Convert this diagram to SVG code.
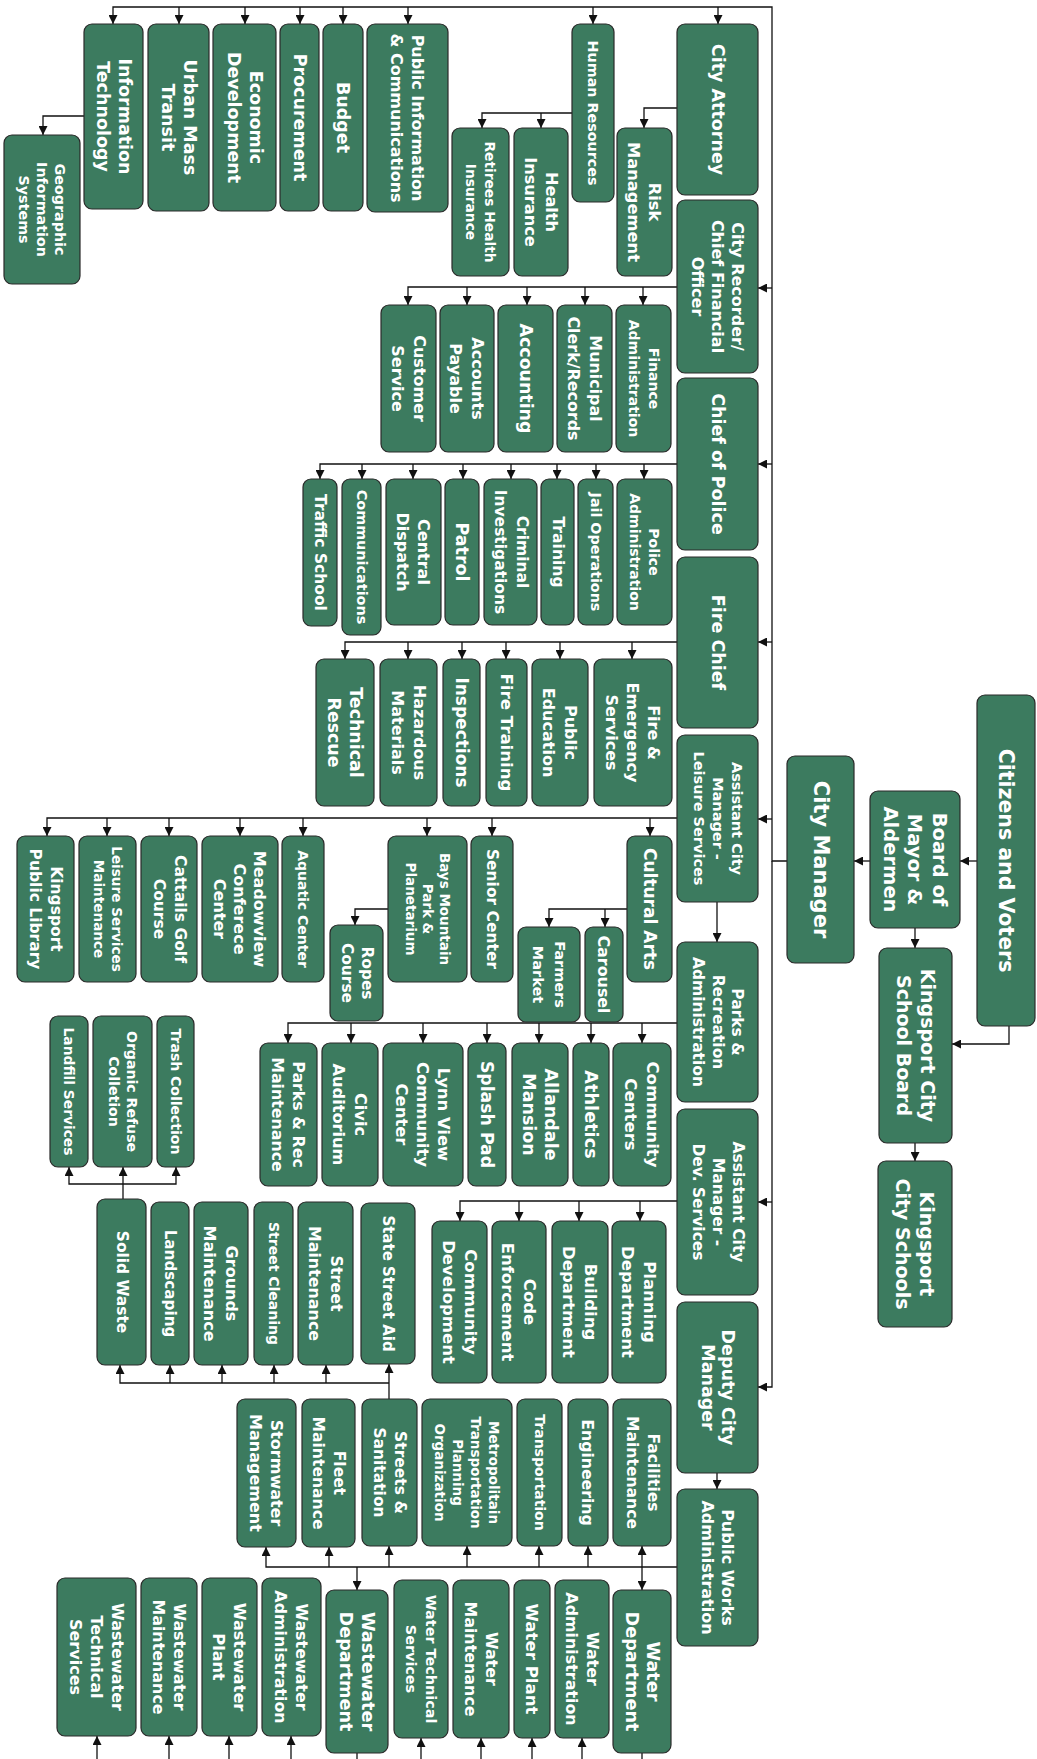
<svg xmlns="http://www.w3.org/2000/svg" width="1037" height="1759" viewBox="0 0 1037 1759">
<style>
.n rect{fill:#3c7b5f;stroke:#2a2a2a;stroke-width:1.2}
.n text{fill:#ffffff;font-family:"DejaVu Sans","Liberation Sans",sans-serif;font-weight:700;text-anchor:middle;dominant-baseline:central}
#connectors path{fill:none;stroke:#111;stroke-width:1.3}
</style>
<defs>
<marker id="ah" viewBox="0 0 10 10" refX="10" refY="5" markerWidth="9" markerHeight="9" markerUnits="userSpaceOnUse" orient="auto"><path d="M0,0 L10,5 L0,10 z" fill="#111"/></marker>
</defs>
<rect width="1037" height="1759" fill="#ffffff"/>
<g id="connectors">
<path d="M787,861 H772 V7 H113 V24" marker-end="url(#ah)"/>
<path d="M179,7 V24" marker-end="url(#ah)"/>
<path d="M245,7 V24" marker-end="url(#ah)"/>
<path d="M300,7 V24" marker-end="url(#ah)"/>
<path d="M343,7 V24" marker-end="url(#ah)"/>
<path d="M408,7 V24" marker-end="url(#ah)"/>
<path d="M593,7 V24" marker-end="url(#ah)"/>
<path d="M718,7 V24" marker-end="url(#ah)"/>
<path d="M772,288 H758" marker-end="url(#ah)"/>
<path d="M772,464 H758" marker-end="url(#ah)"/>
<path d="M772,642 H758" marker-end="url(#ah)"/>
<path d="M772,819 H758" marker-end="url(#ah)"/>
<path d="M772,1202 H758" marker-end="url(#ah)"/>
<path d="M772,861 V1387 H758" marker-end="url(#ah)"/>
<path d="M977,861 H960" marker-end="url(#ah)"/>
<path d="M870,861 H854" marker-end="url(#ah)"/>
<path d="M915,928 V948" marker-end="url(#ah)"/>
<path d="M1009,1026 V1044 H952" marker-end="url(#ah)"/>
<path d="M915,1143 V1161" marker-end="url(#ah)"/>
<path d="M84,116 H43 V135" marker-end="url(#ah)"/>
<path d="M677,108 H644 V128" marker-end="url(#ah)"/>
<path d="M572,113 H482 V128" marker-end="url(#ah)"/>
<path d="M541,113 V128" marker-end="url(#ah)"/>
<path d="M677,287 H408 V305" marker-end="url(#ah)"/>
<path d="M467,287 V305" marker-end="url(#ah)"/>
<path d="M527,287 V305" marker-end="url(#ah)"/>
<path d="M585,287 V305" marker-end="url(#ah)"/>
<path d="M643,287 V305" marker-end="url(#ah)"/>
<path d="M677,464 H320 V479" marker-end="url(#ah)"/>
<path d="M362,464 V479" marker-end="url(#ah)"/>
<path d="M413,464 V479" marker-end="url(#ah)"/>
<path d="M463,464 V479" marker-end="url(#ah)"/>
<path d="M511,464 V479" marker-end="url(#ah)"/>
<path d="M557,464 V479" marker-end="url(#ah)"/>
<path d="M596,464 V479" marker-end="url(#ah)"/>
<path d="M644,464 V479" marker-end="url(#ah)"/>
<path d="M677,642 H345 V659" marker-end="url(#ah)"/>
<path d="M408,642 V659" marker-end="url(#ah)"/>
<path d="M462,642 V659" marker-end="url(#ah)"/>
<path d="M506,642 V659" marker-end="url(#ah)"/>
<path d="M560,642 V659" marker-end="url(#ah)"/>
<path d="M632,642 V659" marker-end="url(#ah)"/>
<path d="M677,818 H47 V836" marker-end="url(#ah)"/>
<path d="M107,818 V836" marker-end="url(#ah)"/>
<path d="M169,818 V836" marker-end="url(#ah)"/>
<path d="M240,818 V836" marker-end="url(#ah)"/>
<path d="M303,818 V836" marker-end="url(#ah)"/>
<path d="M427,818 V836" marker-end="url(#ah)"/>
<path d="M492,818 V836" marker-end="url(#ah)"/>
<path d="M650,818 V836" marker-end="url(#ah)"/>
<path d="M717,902 V942" marker-end="url(#ah)"/>
<path d="M627,909 H549 V927" marker-end="url(#ah)"/>
<path d="M605,909 V927" marker-end="url(#ah)"/>
<path d="M388,909 H355 V925" marker-end="url(#ah)"/>
<path d="M677,1023 H288 V1043" marker-end="url(#ah)"/>
<path d="M351,1023 V1043" marker-end="url(#ah)"/>
<path d="M423,1023 V1043" marker-end="url(#ah)"/>
<path d="M487,1023 V1043" marker-end="url(#ah)"/>
<path d="M539,1023 V1043" marker-end="url(#ah)"/>
<path d="M591,1023 V1043" marker-end="url(#ah)"/>
<path d="M642,1023 V1043" marker-end="url(#ah)"/>
<path d="M677,1201 H460 V1221" marker-end="url(#ah)"/>
<path d="M519,1201 V1221" marker-end="url(#ah)"/>
<path d="M579,1201 V1221" marker-end="url(#ah)"/>
<path d="M640,1201 V1221" marker-end="url(#ah)"/>
<path d="M717,1473 V1489" marker-end="url(#ah)"/>
<path d="M677,1567 H266 V1547" marker-end="url(#ah)"/>
<path d="M329,1567 V1547" marker-end="url(#ah)"/>
<path d="M389,1567 V1546" marker-end="url(#ah)"/>
<path d="M467,1567 V1546" marker-end="url(#ah)"/>
<path d="M539,1567 V1546" marker-end="url(#ah)"/>
<path d="M588,1567 V1546" marker-end="url(#ah)"/>
<path d="M642,1567 V1546" marker-end="url(#ah)"/>
<path d="M642,1567 V1590" marker-end="url(#ah)"/>
<path d="M357,1567 V1590" marker-end="url(#ah)"/>
<path d="M389,1399 V1364" marker-end="url(#ah)"/>
<path d="M389,1383 H120 V1365" marker-end="url(#ah)"/>
<path d="M170,1383 V1365" marker-end="url(#ah)"/>
<path d="M222,1383 V1365" marker-end="url(#ah)"/>
<path d="M274,1383 V1365" marker-end="url(#ah)"/>
<path d="M326,1383 V1365" marker-end="url(#ah)"/>
<path d="M123,1199 V1167" marker-end="url(#ah)"/>
<path d="M123,1184 H69 V1167" marker-end="url(#ah)"/>
<path d="M123,1184 H176 V1167" marker-end="url(#ah)"/>
<path d="M642,1753 V1759"/>
<path d="M357,1753 V1759"/>
<path d="M582,1759 V1738" marker-end="url(#ah)"/>
<path d="M532,1759 V1738" marker-end="url(#ah)"/>
<path d="M481,1759 V1738" marker-end="url(#ah)"/>
<path d="M421,1759 V1738" marker-end="url(#ah)"/>
<path d="M97,1759 V1736" marker-end="url(#ah)"/>
<path d="M169,1759 V1736" marker-end="url(#ah)"/>
<path d="M229,1759 V1736" marker-end="url(#ah)"/>
<path d="M291,1759 V1736" marker-end="url(#ah)"/>
</g>

<g id="citizens" class="n"><rect x="977" y="695" width="58" height="331" rx="8"/><text transform="translate(1006,860.5) rotate(90)" font-size="20.5"><tspan x="0" y="0">Citizens and Voters</tspan></text></g>
<g id="board" class="n"><rect x="870" y="791" width="90" height="137" rx="8"/><text transform="translate(915,859.5) rotate(90)" font-size="19.5"><tspan x="0" y="-24.5">Board of</tspan><tspan x="0" y="0">Mayor &amp;</tspan><tspan x="0" y="24.5">Aldermen</tspan></text></g>
<g id="city-manager" class="n"><rect x="787" y="756" width="67" height="207" rx="8"/><text transform="translate(820.5,859.5) rotate(90)" font-size="21"><tspan x="0" y="0">City Manager</tspan></text></g>
<g id="school-board" class="n"><rect x="879" y="948" width="73" height="195" rx="8"/><text transform="translate(915.5,1045.5) rotate(90)" font-size="19"><tspan x="0" y="-12">Kingsport City</tspan><tspan x="0" y="12">School Board</tspan></text></g>
<g id="city-schools" class="n"><rect x="878" y="1161" width="74" height="166" rx="8"/><text transform="translate(915,1244) rotate(90)" font-size="19"><tspan x="0" y="-12">Kingsport</tspan><tspan x="0" y="12">City Schools</tspan></text></g>

<g id="city-attorney" class="n"><rect x="677" y="24" width="81" height="171" rx="8"/><text transform="translate(717.5,109.5) rotate(90)" font-size="17.5"><tspan x="0" y="0">City Attorney</tspan></text></g>
<g id="city-recorder" class="n"><rect x="677" y="200" width="81" height="173" rx="8"/><text transform="translate(717.5,286.5) rotate(90)" font-size="16"><tspan x="0" y="-20">City Recorder/</tspan><tspan x="0" y="0">Chief Financial</tspan><tspan x="0" y="20">Officer</tspan></text></g>
<g id="chief-police" class="n"><rect x="677" y="378" width="81" height="172" rx="8"/><text transform="translate(717.5,464) rotate(90)" font-size="17.5"><tspan x="0" y="0">Chief of Police</tspan></text></g>
<g id="fire-chief" class="n"><rect x="677" y="557" width="81" height="171" rx="8"/><text transform="translate(717.5,642.5) rotate(90)" font-size="17.5"><tspan x="0" y="0">Fire Chief</tspan></text></g>
<g id="acm-leisure" class="n"><rect x="677" y="735" width="81" height="167" rx="8"/><text transform="translate(717.5,818.5) rotate(90)" font-size="14.5"><tspan x="0" y="-19">Assistant City</tspan><tspan x="0" y="0">Manager -</tspan><tspan x="0" y="19">Leisure Services</tspan></text></g>
<g id="parks-rec-admin" class="n"><rect x="677" y="942" width="81" height="160" rx="8"/><text transform="translate(717.5,1022) rotate(90)" font-size="15.5"><tspan x="0" y="-19.5">Parks &amp;</tspan><tspan x="0" y="0">Recreation</tspan><tspan x="0" y="19.5">Administration</tspan></text></g>
<g id="acm-dev" class="n"><rect x="677" y="1109" width="81" height="186" rx="8"/><text transform="translate(717.5,1202) rotate(90)" font-size="15.5"><tspan x="0" y="-20">Assistant City</tspan><tspan x="0" y="0">Manager -</tspan><tspan x="0" y="20">Dev. Services</tspan></text></g>
<g id="deputy-cm" class="n"><rect x="677" y="1302" width="81" height="171" rx="8"/><text transform="translate(717.5,1387.5) rotate(90)" font-size="17.5"><tspan x="0" y="-10">Deputy City</tspan><tspan x="0" y="10">Manager</tspan></text></g>
<g id="public-works-admin" class="n"><rect x="677" y="1489" width="81" height="157" rx="8"/><text transform="translate(717.5,1567.5) rotate(90)" font-size="16"><tspan x="0" y="-10">Public Works</tspan><tspan x="0" y="10">Administration</tspan></text></g>

<g id="it" class="n"><rect x="84" y="24" width="59" height="185" rx="8"/><text transform="translate(113.5,116.5) rotate(90)" font-size="17.5"><tspan x="0" y="-11">Information</tspan><tspan x="0" y="11">Technology</tspan></text></g>
<g id="urban-transit" class="n"><rect x="148" y="24" width="61" height="187" rx="8"/><text transform="translate(178.5,117.5) rotate(90)" font-size="17.5"><tspan x="0" y="-11">Urban Mass</tspan><tspan x="0" y="11">Transit</tspan></text></g>
<g id="economic-dev" class="n"><rect x="213" y="24" width="63" height="187" rx="8"/><text transform="translate(244.5,117.5) rotate(90)" font-size="17.5"><tspan x="0" y="-11">Economic</tspan><tspan x="0" y="11">Development</tspan></text></g>
<g id="procurement" class="n"><rect x="280" y="24" width="39" height="187" rx="8"/><text transform="translate(299.5,117.5) rotate(90)" font-size="17.5"><tspan x="0" y="0">Procurement</tspan></text></g>
<g id="budget" class="n"><rect x="323" y="24" width="40" height="187" rx="8"/><text transform="translate(343,117.5) rotate(90)" font-size="17.5"><tspan x="0" y="0">Budget</tspan></text></g>
<g id="public-info" class="n"><rect x="367" y="24" width="81" height="188" rx="8"/><text transform="translate(407.5,118) rotate(90)" font-size="16"><tspan x="0" y="-10.75">Public Information</tspan><tspan x="0" y="10.75">&amp; Communications</tspan></text></g>
<g id="human-resources" class="n"><rect x="572" y="24" width="42" height="178" rx="8"/><text transform="translate(593,113) rotate(90)" font-size="14.3"><tspan x="0" y="0">Human Resources</tspan></text></g>
<g id="gis" class="n"><rect x="4" y="135" width="76" height="149" rx="8"/><text transform="translate(42,209.5) rotate(90)" font-size="14.3"><tspan x="0" y="-18">Geographic</tspan><tspan x="0" y="0">Information</tspan><tspan x="0" y="18">Systems</tspan></text></g>
<g id="retirees-insurance" class="n"><rect x="452" y="128" width="57" height="148" rx="8"/><text transform="translate(480.5,202) rotate(90)" font-size="13.8"><tspan x="0" y="-9.5">Retirees Health</tspan><tspan x="0" y="9.5">Insurance</tspan></text></g>
<g id="health-insurance" class="n"><rect x="514" y="128" width="54" height="148" rx="8"/><text transform="translate(541,202) rotate(90)" font-size="16.2"><tspan x="0" y="-10.5">Health</tspan><tspan x="0" y="10.5">Insurance</tspan></text></g>
<g id="risk-management" class="n"><rect x="617" y="128" width="55" height="148" rx="8"/><text transform="translate(644.5,202) rotate(90)" font-size="16.3"><tspan x="0" y="-10.5">Risk</tspan><tspan x="0" y="10.5">Management</tspan></text></g>

<g id="customer-service" class="n"><rect x="381" y="305" width="55" height="147" rx="8"/><text transform="translate(408.5,378.5) rotate(90)" font-size="16"><tspan x="0" y="-11">Customer</tspan><tspan x="0" y="11">Service</tspan></text></g>
<g id="accounts-payable" class="n"><rect x="440" y="305" width="54" height="147" rx="8"/><text transform="translate(467,378.5) rotate(90)" font-size="16"><tspan x="0" y="-11">Accounts</tspan><tspan x="0" y="11">Payable</tspan></text></g>
<g id="accounting" class="n"><rect x="498" y="305" width="55" height="147" rx="8"/><text transform="translate(525.5,378.5) rotate(90)" font-size="17.4"><tspan x="0" y="0">Accounting</tspan></text></g>
<g id="municipal-clerk" class="n"><rect x="557" y="305" width="55" height="147" rx="8"/><text transform="translate(584.5,378.5) rotate(90)" font-size="15.9"><tspan x="0" y="-11">Municipal</tspan><tspan x="0" y="11">Clerk/Records</tspan></text></g>
<g id="finance-admin" class="n"><rect x="616" y="305" width="55" height="147" rx="8"/><text transform="translate(643.5,378.5) rotate(90)" font-size="14"><tspan x="0" y="-10">Finance</tspan><tspan x="0" y="10">Administration</tspan></text></g>

<g id="traffic-school" class="n"><rect x="303" y="479" width="34" height="147" rx="8"/><text transform="translate(320,552.5) rotate(90)" font-size="15.5"><tspan x="0" y="0">Traffic School</tspan></text></g>
<g id="communications" class="n"><rect x="342" y="479" width="39" height="156" rx="8"/><text transform="translate(361.5,557) rotate(90)" font-size="14.4"><tspan x="0" y="0">Communications</tspan></text></g>
<g id="central-dispatch" class="n"><rect x="386" y="479" width="55" height="146" rx="8"/><text transform="translate(413.5,552) rotate(90)" font-size="16"><tspan x="0" y="-10.5">Central</tspan><tspan x="0" y="10.5">Dispatch</tspan></text></g>
<g id="patrol" class="n"><rect x="445" y="479" width="34" height="146" rx="8"/><text transform="translate(462,552) rotate(90)" font-size="17.5"><tspan x="0" y="0">Patrol</tspan></text></g>
<g id="criminal-investigations" class="n"><rect x="484" y="479" width="53" height="146" rx="8"/><text transform="translate(510.5,552) rotate(90)" font-size="15.5"><tspan x="0" y="-11">Criminal</tspan><tspan x="0" y="11">Investigations</tspan></text></g>
<g id="training" class="n"><rect x="541" y="479" width="33" height="146" rx="8"/><text transform="translate(557.5,552) rotate(90)" font-size="15.6"><tspan x="0" y="0">Training</tspan></text></g>
<g id="jail-operations" class="n"><rect x="578" y="479" width="35" height="146" rx="8"/><text transform="translate(595.5,552) rotate(90)" font-size="14.3"><tspan x="0" y="0">Jail Operations</tspan></text></g>
<g id="police-admin" class="n"><rect x="617" y="479" width="55" height="146" rx="8"/><text transform="translate(644.5,552) rotate(90)" font-size="14"><tspan x="0" y="-9.5">Police</tspan><tspan x="0" y="9.5">Administration</tspan></text></g>

<g id="technical-rescue" class="n"><rect x="316" y="659" width="58" height="147" rx="8"/><text transform="translate(345,732.5) rotate(90)" font-size="17.4"><tspan x="0" y="-11">Technical</tspan><tspan x="0" y="11">Rescue</tspan></text></g>
<g id="hazardous-materials" class="n"><rect x="380" y="659" width="57" height="147" rx="8"/><text transform="translate(408.5,732.5) rotate(90)" font-size="16"><tspan x="0" y="-11">Hazardous</tspan><tspan x="0" y="11">Materials</tspan></text></g>
<g id="inspections" class="n"><rect x="443" y="659" width="37" height="147" rx="8"/><text transform="translate(461.5,732.5) rotate(90)" font-size="17"><tspan x="0" y="0">Inspections</tspan></text></g>
<g id="fire-training" class="n"><rect x="486" y="659" width="41" height="147" rx="8"/><text transform="translate(506.5,732.5) rotate(90)" font-size="16.6"><tspan x="0" y="0">Fire Training</tspan></text></g>
<g id="public-education" class="n"><rect x="532" y="659" width="56" height="147" rx="8"/><text transform="translate(560,732.5) rotate(90)" font-size="16"><tspan x="0" y="-11">Public</tspan><tspan x="0" y="11">Education</tspan></text></g>
<g id="fire-ems" class="n"><rect x="594" y="659" width="78" height="147" rx="8"/><text transform="translate(633,732.5) rotate(90)" font-size="16"><tspan x="0" y="-21">Fire &amp;</tspan><tspan x="0" y="0">Emergency</tspan><tspan x="0" y="21">Services</tspan></text></g>

<g id="public-library" class="n"><rect x="17" y="836" width="57" height="146" rx="8"/><text transform="translate(45.5,909) rotate(90)" font-size="15.5"><tspan x="0" y="-10.5">Kingsport</tspan><tspan x="0" y="10.5">Public Library</tspan></text></g>
<g id="leisure-maintenance" class="n"><rect x="79" y="836" width="57" height="146" rx="8"/><text transform="translate(107.5,909) rotate(90)" font-size="13.6"><tspan x="0" y="-9">Leisure Services</tspan><tspan x="0" y="9">Maintenance</tspan></text></g>
<g id="cattails-golf" class="n"><rect x="141" y="836" width="56" height="146" rx="8"/><text transform="translate(169,909) rotate(90)" font-size="15.5"><tspan x="0" y="-10.5">Cattails Golf</tspan><tspan x="0" y="10.5">Course</tspan></text></g>
<g id="meadowview" class="n"><rect x="202" y="836" width="76" height="146" rx="8"/><text transform="translate(240,909) rotate(90)" font-size="16"><tspan x="0" y="-20">Meadowview</tspan><tspan x="0" y="0">Conferece</tspan><tspan x="0" y="20">Center</tspan></text></g>
<g id="aquatic-center" class="n"><rect x="282" y="836" width="42" height="146" rx="8"/><text transform="translate(303,909) rotate(90)" font-size="14"><tspan x="0" y="0">Aquatic Center</tspan></text></g>
<g id="bays-mountain" class="n"><rect x="388" y="836" width="79" height="146" rx="8"/><text transform="translate(427.5,909) rotate(90)" font-size="13.5"><tspan x="0" y="-17">Bays Mountain</tspan><tspan x="0" y="0">Park &amp;</tspan><tspan x="0" y="17">Planetarium</tspan></text></g>
<g id="senior-center" class="n"><rect x="471" y="836" width="42" height="146" rx="8"/><text transform="translate(492,909) rotate(90)" font-size="15.5"><tspan x="0" y="0">Senior Center</tspan></text></g>
<g id="cultural-arts" class="n"><rect x="627" y="836" width="45" height="146" rx="8"/><text transform="translate(649.5,909) rotate(90)" font-size="17"><tspan x="0" y="0">Cultural Arts</tspan></text></g>
<g id="ropes-course" class="n"><rect x="330" y="925" width="53" height="96" rx="8"/><text transform="translate(356.5,973) rotate(90)" font-size="15.4"><tspan x="0" y="-10">Ropes</tspan><tspan x="0" y="10">Course</tspan></text></g>
<g id="farmers-market" class="n"><rect x="518" y="927" width="62" height="95" rx="8"/><text transform="translate(549,974.5) rotate(90)" font-size="14.5"><tspan x="0" y="-11">Farmers</tspan><tspan x="0" y="11">Market</tspan></text></g>
<g id="carousel" class="n"><rect x="585" y="927" width="38" height="95" rx="8"/><text transform="translate(604,974.5) rotate(90)" font-size="15.9"><tspan x="0" y="0">Carousel</tspan></text></g>

<g id="parks-maintenance" class="n"><rect x="260" y="1043" width="57" height="143" rx="8"/><text transform="translate(288.5,1114.5) rotate(90)" font-size="15.8"><tspan x="0" y="-10.5">Parks &amp; Rec</tspan><tspan x="0" y="10.5">Maintenance</tspan></text></g>
<g id="civic-auditorium" class="n"><rect x="322" y="1043" width="56" height="143" rx="8"/><text transform="translate(350,1114.5) rotate(90)" font-size="16.2"><tspan x="0" y="-11">Civic</tspan><tspan x="0" y="11">Auditorium</tspan></text></g>
<g id="lynn-view" class="n"><rect x="383" y="1043" width="80" height="143" rx="8"/><text transform="translate(423,1114.5) rotate(90)" font-size="16.4"><tspan x="0" y="-21">Lynn View</tspan><tspan x="0" y="0">Community</tspan><tspan x="0" y="21">Center</tspan></text></g>
<g id="splash-pad" class="n"><rect x="468" y="1043" width="38" height="143" rx="8"/><text transform="translate(487,1114.5) rotate(90)" font-size="17.3"><tspan x="0" y="0">Splash Pad</tspan></text></g>
<g id="allandale-mansion" class="n"><rect x="512" y="1043" width="56" height="143" rx="8"/><text transform="translate(540,1114.5) rotate(90)" font-size="17.5"><tspan x="0" y="-11">Allandale</tspan><tspan x="0" y="11">Mansion</tspan></text></g>
<g id="athletics" class="n"><rect x="573" y="1043" width="36" height="143" rx="8"/><text transform="translate(591,1114.5) rotate(90)" font-size="17.7"><tspan x="0" y="0">Athletics</tspan></text></g>
<g id="community-centers" class="n"><rect x="613" y="1043" width="58" height="143" rx="8"/><text transform="translate(642,1114.5) rotate(90)" font-size="16.6"><tspan x="0" y="-11">Community</tspan><tspan x="0" y="11">Centers</tspan></text></g>

<g id="landfill-services" class="n"><rect x="50" y="1016" width="38" height="151" rx="8"/><text transform="translate(69,1091.5) rotate(90)" font-size="13.8"><tspan x="0" y="0">Landfill Services</tspan></text></g>
<g id="organic-refuse" class="n"><rect x="93" y="1016" width="59" height="151" rx="8"/><text transform="translate(122.5,1091.5) rotate(90)" font-size="14.1"><tspan x="0" y="-9">Organic Refuse</tspan><tspan x="0" y="9">Colletion</tspan></text></g>
<g id="trash-collection" class="n"><rect x="157" y="1016" width="37" height="151" rx="8"/><text transform="translate(175.5,1091.5) rotate(90)" font-size="14"><tspan x="0" y="0">Trash Collection</tspan></text></g>

<g id="community-development" class="n"><rect x="432" y="1221" width="55" height="162" rx="8"/><text transform="translate(459.5,1302) rotate(90)" font-size="16.5"><tspan x="0" y="-11">Community</tspan><tspan x="0" y="11">Development</tspan></text></g>
<g id="code-enforcement" class="n"><rect x="492" y="1221" width="54" height="162" rx="8"/><text transform="translate(519,1302) rotate(90)" font-size="16.5"><tspan x="0" y="-11">Code</tspan><tspan x="0" y="11">Enforcement</tspan></text></g>
<g id="building-department" class="n"><rect x="552" y="1221" width="56" height="162" rx="8"/><text transform="translate(580,1302) rotate(90)" font-size="16.5"><tspan x="0" y="-11">Building</tspan><tspan x="0" y="11">Department</tspan></text></g>
<g id="planning-department" class="n"><rect x="612" y="1221" width="54" height="162" rx="8"/><text transform="translate(639,1302) rotate(90)" font-size="16.5"><tspan x="0" y="-11">Planning</tspan><tspan x="0" y="11">Department</tspan></text></g>

<g id="solid-waste" class="n"><rect x="97" y="1199" width="49" height="166" rx="8"/><text transform="translate(121.5,1282) rotate(90)" font-size="15.4"><tspan x="0" y="0">Solid Waste</tspan></text></g>
<g id="landscaping" class="n"><rect x="151" y="1202" width="38" height="163" rx="8"/><text transform="translate(170,1283.5) rotate(90)" font-size="15.2"><tspan x="0" y="0">Landscaping</tspan></text></g>
<g id="grounds-maintenance" class="n"><rect x="194" y="1202" width="54" height="163" rx="8"/><text transform="translate(221,1283.5) rotate(90)" font-size="16"><tspan x="0" y="-11">Grounds</tspan><tspan x="0" y="11">Maintenance</tspan></text></g>
<g id="street-cleaning" class="n"><rect x="254" y="1202" width="39" height="163" rx="8"/><text transform="translate(273.5,1283.5) rotate(90)" font-size="14"><tspan x="0" y="0">Street Cleaning</tspan></text></g>
<g id="street-maintenance" class="n"><rect x="298" y="1202" width="55" height="163" rx="8"/><text transform="translate(325.5,1283.5) rotate(90)" font-size="15.9"><tspan x="0" y="-11">Street</tspan><tspan x="0" y="11">Maintenance</tspan></text></g>
<g id="state-street-aid" class="n"><rect x="361" y="1203" width="54" height="161" rx="8"/><text transform="translate(388,1283.5) rotate(90)" font-size="15"><tspan x="0" y="0">State Street Aid</tspan></text></g>

<g id="stormwater" class="n"><rect x="237" y="1399" width="59" height="148" rx="8"/><text transform="translate(266.5,1473) rotate(90)" font-size="16"><tspan x="0" y="-10.5">Stormwater</tspan><tspan x="0" y="10.5">Management</tspan></text></g>
<g id="fleet-maintenance" class="n"><rect x="302" y="1399" width="53" height="148" rx="8"/><text transform="translate(328.5,1473) rotate(90)" font-size="15.6"><tspan x="0" y="-10.5">Fleet</tspan><tspan x="0" y="10.5">Maintenance</tspan></text></g>
<g id="streets-sanitation" class="n"><rect x="362" y="1399" width="55" height="147" rx="8"/><text transform="translate(389.5,1472.5) rotate(90)" font-size="15.5"><tspan x="0" y="-10.5">Streets &amp;</tspan><tspan x="0" y="10.5">Sanitation</tspan></text></g>
<g id="mtpo" class="n"><rect x="422" y="1399" width="90" height="147" rx="8"/><text transform="translate(467,1472.5) rotate(90)" font-size="13.5"><tspan x="0" y="-27">Metropolitain</tspan><tspan x="0" y="-9">Transportation</tspan><tspan x="0" y="9">Planning</tspan><tspan x="0" y="27">Organization</tspan></text></g>
<g id="transportation" class="n"><rect x="517" y="1399" width="45" height="147" rx="8"/><text transform="translate(539.5,1472.5) rotate(90)" font-size="14"><tspan x="0" y="0">Transportation</tspan></text></g>
<g id="engineering" class="n"><rect x="568" y="1399" width="40" height="147" rx="8"/><text transform="translate(588,1472.5) rotate(90)" font-size="15.7"><tspan x="0" y="0">Engineering</tspan></text></g>
<g id="facilities-maintenance" class="n"><rect x="613" y="1399" width="58" height="147" rx="8"/><text transform="translate(642,1472.5) rotate(90)" font-size="15.6"><tspan x="0" y="-10.5">Facilities</tspan><tspan x="0" y="10.5">Maintenance</tspan></text></g>

<g id="water-department" class="n"><rect x="613" y="1590" width="58" height="163" rx="8"/><text transform="translate(642,1671.5) rotate(90)" font-size="17.7"><tspan x="0" y="-10.5">Water</tspan><tspan x="0" y="10.5">Department</tspan></text></g>
<g id="water-administration" class="n"><rect x="555" y="1580" width="54" height="158" rx="8"/><text transform="translate(582,1659) rotate(90)" font-size="15.9"><tspan x="0" y="-10.5">Water</tspan><tspan x="0" y="10.5">Administration</tspan></text></g>
<g id="water-plant" class="n"><rect x="514" y="1580" width="36" height="158" rx="8"/><text transform="translate(532,1659) rotate(90)" font-size="16.6"><tspan x="0" y="0">Water Plant</tspan></text></g>
<g id="water-maintenance" class="n"><rect x="453" y="1580" width="56" height="158" rx="8"/><text transform="translate(481,1659) rotate(90)" font-size="15.9"><tspan x="0" y="-10.5">Water</tspan><tspan x="0" y="10.5">Maintenance</tspan></text></g>
<g id="water-technical" class="n"><rect x="394" y="1580" width="54" height="158" rx="8"/><text transform="translate(421,1659) rotate(90)" font-size="14.4"><tspan x="0" y="-10">Water Technical</tspan><tspan x="0" y="10">Services</tspan></text></g>

<g id="wastewater-department" class="n"><rect x="326" y="1590" width="62" height="163" rx="8"/><text transform="translate(357,1671.5) rotate(90)" font-size="17.7"><tspan x="0" y="-11">Wastewater</tspan><tspan x="0" y="11">Department</tspan></text></g>
<g id="wastewater-administration" class="n"><rect x="262" y="1578" width="59" height="158" rx="8"/><text transform="translate(291.5,1657) rotate(90)" font-size="15.9"><tspan x="0" y="-10.5">Wastewater</tspan><tspan x="0" y="10.5">Administration</tspan></text></g>
<g id="wastewater-plant" class="n"><rect x="202" y="1578" width="55" height="158" rx="8"/><text transform="translate(229.5,1657) rotate(90)" font-size="16.1"><tspan x="0" y="-10.5">Wastewater</tspan><tspan x="0" y="10.5">Plant</tspan></text></g>
<g id="wastewater-maintenance" class="n"><rect x="141" y="1578" width="56" height="158" rx="8"/><text transform="translate(169,1657) rotate(90)" font-size="15.9"><tspan x="0" y="-10.5">Wastewater</tspan><tspan x="0" y="10.5">Maintenance</tspan></text></g>
<g id="wastewater-technical" class="n"><rect x="57" y="1578" width="79" height="158" rx="8"/><text transform="translate(96.5,1657) rotate(90)" font-size="16"><tspan x="0" y="-21">Wastewater</tspan><tspan x="0" y="0">Technical</tspan><tspan x="0" y="21">Services</tspan></text></g>
</svg>
